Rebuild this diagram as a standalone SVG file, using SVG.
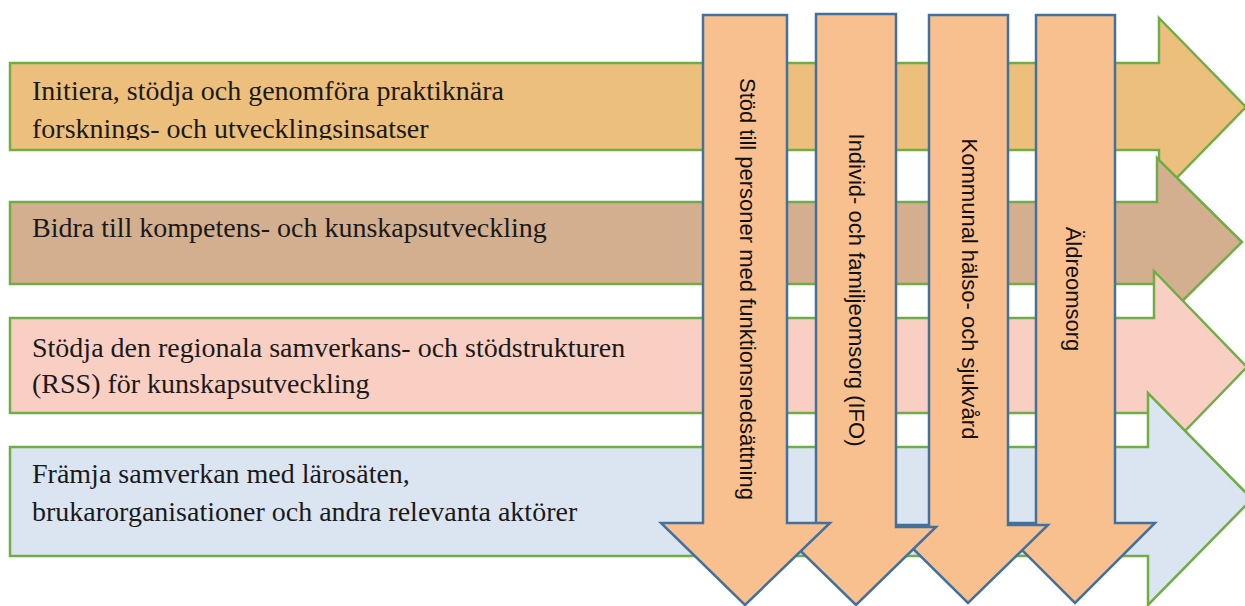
<svg xmlns="http://www.w3.org/2000/svg" width="1245" height="606" viewBox="0 0 1245 606">
  <style>
    .h { stroke: #70AD47; stroke-width: 2.5; stroke-linejoin: miter; }
    .v { fill: #F9C08F; stroke: #41719C; stroke-width: 2.5; stroke-linejoin: miter; }
    .vt { font-family: 'Liberation Sans', Arial, sans-serif; font-size: 22px; fill: #111; text-anchor: middle; }
  </style>
  <defs>
    <clipPath id="clip1"><rect x="10" y="63" width="1150" height="77"/></clipPath>
  </defs>
  <rect width="1245" height="606" fill="#ffffff"/>

  <g font-family="Liberation Serif, DejaVu Serif, serif" font-size="28" fill="#1a1a1a">
  <g id="goal1">
    <path class="h" fill="#ECC07C" d="M10,63 L1159,63 L1159,18 L1246,107 L1159,196 L1159,150 L10,150 Z"/>
    <g clip-path="url(#clip1)">
      <text x="32" y="100">Initiera, stödja och genomföra praktiknära</text>
      <text x="32" y="138">forsknings- och utvecklingsinsatser</text>
    </g>
  </g>
  <g id="goal2">
    <path class="h" fill="#D3AF8F" d="M10,202 L1157,202 L1157,158 L1242,242 L1157,326 L1157,284 L10,284 Z"/>
    <text x="32" y="237">Bidra till kompetens- och kunskapsutveckling</text>
  </g>
  <g id="goal3">
    <path class="h" fill="#F9CFC3" d="M10,318 L1154,318 L1154,271 L1247,367 L1154,463 L1154,413 L10,413 Z"/>
    <text x="32" y="357">Stödja den regionala samverkans- och stödstrukturen</text>
    <text x="32" y="393">(RSS) för kunskapsutveckling</text>
  </g>
  <g id="goal4">
    <path class="h" fill="#DBE5F1" d="M10,447 L1148,447 L1148,393 L1252,499 L1148,605 L1148,556 L10,556 Z"/>
    <text x="32" y="483">Främja samverkan med lärosäten,</text>
    <text x="32" y="521">brukarorganisationer och andra relevanta aktörer</text>
  </g>
  </g>

  <g id="area4">
    <path class="v" d="M1036,15 L1115,15 L1115,523 L1155,523 L1075,603 L995,523 L1036,523 Z"/>
    <text class="vt" transform="translate(1066,289) rotate(90)">Äldreomsorg</text>
  </g>
  <g id="area3">
    <path class="v" d="M929,15 L1008,15 L1008,525 L1048,525 L968,603 L889,525 L929,525 Z"/>
    <text class="vt" transform="translate(962,289) rotate(90)">Kommunal hälso- och sjukvård</text>
  </g>
  <g id="area2">
    <path class="v" d="M816,14 L896,14 L896,527 L936,527 L856,605 L776,527 L816,527 Z"/>
    <text class="vt" transform="translate(849,290) rotate(90)">Individ- och familjeomsorg (IFO)</text>
  </g>
  <g id="area1">
    <path class="v" d="M703,15 L787,15 L787,523 L830,523 L745,605 L661,523 L703,523 Z"/>
    <text class="vt" transform="translate(740,289) rotate(90)">Stöd till personer med funktionsnedsättning</text>
  </g>

  <g id="connectors"></g>
</svg>
